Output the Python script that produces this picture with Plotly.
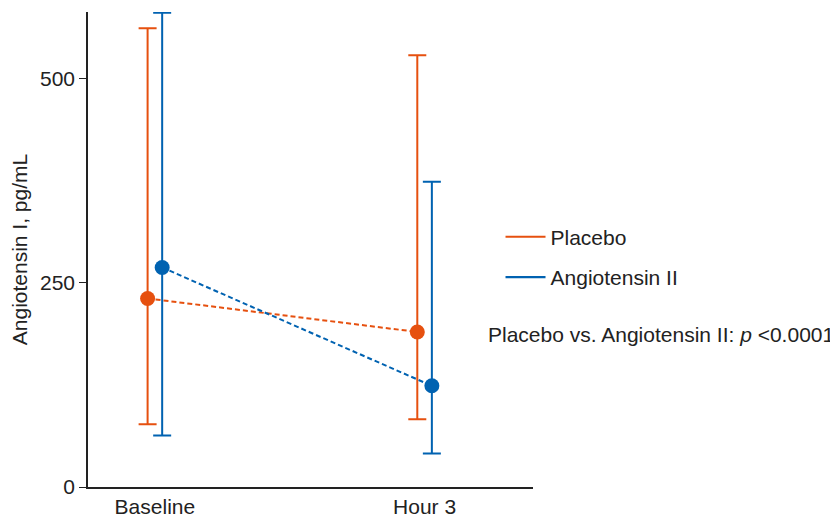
import plotly.graph_objects as go

categories = ["Baseline", "Hour 3"]
series_names = ["Placebo", "Angiotensin II"]
placebo_mean = [231, 190]
placebo_upper = [562, 529]
placebo_lower = [77, 83]
ang2_mean = [269, 124]
ang2_upper = [581, 374]
ang2_lower = [63, 41]
y_ticks = [0, 250, 500]

colors = ["#E6500F", "#0062B1"]
offsets = [-0.027, 0.027]
FONT = "Liberation Sans, Arial, sans-serif"

fig = go.Figure()
series = [(placebo_mean, placebo_upper, placebo_lower), (ang2_mean, ang2_upper, ang2_lower)]
for i, (m, up, lo) in enumerate(series):
    xs = [k + offsets[i] for k in range(len(categories))]
    fig.add_trace(go.Scatter(
        x=xs, y=m, mode="lines+markers", showlegend=False,
        line=dict(color=colors[i], width=2, dash="5px,3px"),
        marker=dict(color=colors[i], size=15),
        error_y=dict(type="data", symmetric=False,
                     array=[u - v for u, v in zip(up, m)],
                     arrayminus=[v - l for v, l in zip(m, lo)],
                     color=colors[i], thickness=2, width=9),
    ))
for i, name in enumerate(series_names):
    fig.add_trace(go.Scatter(
        x=[None], y=[None], mode="lines", name=name,
        line=dict(color=colors[i], width=2.2), legendgroup=name,
    ))

# the page body has an 8px margin, so the figure is sized to fill the rest of the window
fig.update_layout(
    width=830, height=511,
    margin=dict(l=80, r=305, t=4, b=32),
    plot_bgcolor="white", paper_bgcolor="white",
    font=dict(family=FONT, size=21, color="#222222"),
    showlegend=True,
    legend=dict(x=0.927, y=0.484, xanchor="left", yanchor="middle",
                tracegroupgap=10, itemwidth=40, font=dict(size=21),
                bgcolor="rgba(0,0,0,0)"),
    xaxis=dict(range=[-0.248, 1.402], tickvals=list(range(len(categories))),
               ticktext=categories, showgrid=False, zeroline=False, automargin=False,
               showline=True, linecolor="#222222", linewidth=1.5, ticks="",
               tickfont=dict(size=21)),
    yaxis=dict(range=[0, 582], tickvals=y_ticks, showgrid=False, zeroline=False,
               automargin=False,
               showline=True, linecolor="#222222", linewidth=1.5,
               ticks="outside", ticklen=7, tickcolor="#222222",
               tickfont=dict(size=21),
               title=dict(text="Angiotensin I, pg/mL", standoff=10,
                          font=dict(size=21))),
    annotations=[dict(xref="paper", yref="paper", x=0.895, y=0.322,
                      xanchor="left", yanchor="middle", showarrow=False,
                      text="Placebo vs. Angiotensin II: <i>p</i> <0.0001",
                      font=dict(size=21))],
)
fig.write_html("out.html")
